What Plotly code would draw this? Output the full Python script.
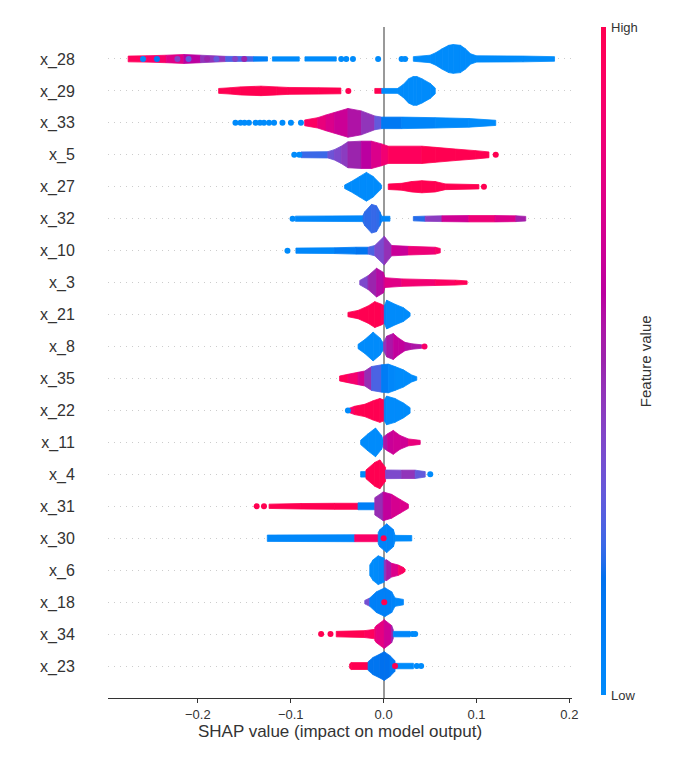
import math
import plotly.graph_objects as go

# ---------------- data ----------------
FEATURES = ["x_28", "x_29", "x_33", "x_5", "x_27", "x_32", "x_10", "x_3", "x_21", "x_8",
            "x_35", "x_22", "x_11", "x_4", "x_31", "x_30", "x_6", "x_18", "x_34", "x_23"]

# runs of the beeswarm: (SHAP value, relative density 0..1, feature value 0..1)
X_28_RUNS = [
    [(-0.275, 0.20, 0.95), (-0.255, 0.22, 0.95), (-0.234, 0.26, 0.85), (-0.215, 0.31, 0.65),
     (-0.197, 0.26, 0.55), (-0.170, 0.18, 0.35), (-0.140, 0.16, 0.15), (-0.125, 0.15, 0.0)],
    [(-0.1197, 0.15, 0.0), (-0.0908, 0.15, 0.0)],
    [(-0.0847, 0.15, 0.0), (-0.0510, 0.15, 0.0)],
    [(0.032, 0.16, 0.0), (0.050, 0.26, 0.0), (0.056, 0.43, 0.0), (0.063, 0.71, 0.0), (0.0701, 0.95, 0.0),
     (0.075, 1.0, 0.0), (0.0827, 0.95, 0.0), (0.088, 0.71, 0.0), (0.0936, 0.36, 0.0), (0.100, 0.22, 0.0),
     (0.150, 0.20, 0.0), (0.184, 0.16, 0.0)],
]
X_28_DOTS = [(-0.0456, 0.0), (-0.0402, 0.0), (-0.033, 0.0), (-0.0059, 0.0), (0.0194, 0.0), (0.0231, 0.0),
             (-0.259, 0.0), (-0.244, 0.1), (-0.222, 0.4), (-0.21, 0.3), (-0.19, 0.5), (-0.18, 0.3),
             (-0.16, 0.4), (-0.15, 0.5)]

X_29_RUNS = [
    [(-0.1776, 0.17, 1.0), (-0.165, 0.22, 1.0), (-0.154, 0.28, 1.0), (-0.132, 0.33, 1.0),
     (-0.115, 0.28, 1.0), (-0.103, 0.24, 1.0), (-0.070, 0.22, 1.0), (-0.046, 0.20, 1.0)],
    [(-0.0095, 0.17, 1.0), (-0.002, 0.17, 1.0)],
    [(-0.002, 0.17, 0.0), (0.015, 0.17, 0.0), (0.0212, 0.45, 0.0), (0.027, 0.85, 0.0), (0.032, 1.0, 0.0),
     (0.0357, 1.0, 0.0), (0.0411, 0.85, 0.0), (0.0502, 0.52, 0.0), (0.0556, 0.2, 0.0)],
]
X_29_DOTS = [(-0.038, 1.0)]

X_33_RUNS = [
    [(-0.085, 0.20, 1.0), (-0.071, 0.36, 0.85), (-0.062, 0.55, 0.75), (-0.053, 0.72, 0.7),
     (-0.0384, 1.0, 0.62), (-0.024, 0.83, 0.5), (-0.0095, 0.48, 0.4), (-0.0022, 0.40, 0.2),
     (0.0195, 0.40, 0.05), (0.0556, 0.36, 0.03), (0.0918, 0.30, 0.0), (0.1207, 0.18, 0.0)],
]
X_33_DOTS = [(-0.1595, 0.0), (-0.1541, 0.0), (-0.1497, 0.0), (-0.145, 0.0), (-0.1378, 0.0), (-0.1331, 0.0),
             (-0.1288, 0.0), (-0.1233, 0.0), (-0.1179, 0.0), (-0.1089, 0.0), (-0.0998, 0.0), (-0.089, 0.0)]

X_5_RUNS = [
    [(-0.089, 0.20, 0.15), (-0.060, 0.22, 0.3), (-0.053, 0.36, 0.35), (-0.0456, 0.60, 0.4),
     (-0.0384, 0.90, 0.45), (-0.024, 0.95, 0.55), (-0.013, 0.95, 0.65), (-0.0022, 0.76, 0.8),
     (0.005, 0.60, 0.9), (0.0412, 0.60, 1.0), (0.0556, 0.52, 1.0), (0.0773, 0.40, 1.0),
     (0.099, 0.29, 1.0), (0.1134, 0.20, 1.0)],
]
X_5_DOTS = [(-0.0962, 0.0), (-0.0908, 0.0), (0.1207, 1.0)]

X_27_RUNS = [
    [(-0.042, 0.12, 0.0), (-0.0348, 0.36, 0.0), (-0.0257, 0.72, 0.0), (-0.0185, 1.0, 0.0),
     (-0.0113, 0.72, 0.0), (-0.004, 0.24, 0.0), (-0.0022, 0.10, 0.0)],
    [(0.005, 0.19, 1.0), (0.0195, 0.24, 1.0), (0.030, 0.36, 1.0), (0.0412, 0.42, 1.0),
     (0.0556, 0.36, 1.0), (0.0664, 0.20, 1.0), (0.1026, 0.15, 1.0)],
]
X_27_DOTS = [(0.108, 1.0)]

X_32_RUNS = [
    [(-0.095, 0.18, 0.0), (-0.0221, 0.20, 0.05)],
    [(-0.0221, 0.25, 0.2), (-0.0203, 0.48, 0.2), (-0.013, 1.0, 0.22), (-0.0077, 0.90, 0.22),
     (-0.004, 0.48, 0.2), (-0.002, 0.17, 0.05), (0.0068, 0.17, 0.0)],
    [(0.032, 0.15, 0.1), (0.0448, 0.18, 0.3), (0.0628, 0.20, 0.55), (0.0918, 0.22, 0.8),
     (0.120, 0.22, 0.85), (0.1424, 0.20, 0.6), (0.153, 0.16, 0.45)],
]
X_32_DOTS = [(-0.098, 0.0)]

X_10_RUNS = [
    [(-0.0944, 0.18, 0.0), (-0.0528, 0.20, 0.05), (-0.030, 0.24, 0.15), (-0.0167, 0.24, 0.15),
     (-0.0095, 0.36, 0.35), (0.0007, 1.0, 0.38), (0.0087, 0.36, 0.55), (0.0268, 0.30, 0.75),
     (0.0556, 0.24, 0.9), (0.061, 0.15, 0.9)],
]
X_10_DOTS = [(-0.1035, 0.0)]

X_3_RUNS = [
    [(-0.0257, 0.15, 0.3), (-0.0167, 0.48, 0.45), (-0.0076, 1.0, 0.55), (-0.0004, 0.72, 0.6),
     (0.0014, 0.34, 0.7), (0.0195, 0.26, 0.8), (0.0556, 0.20, 0.9), (0.0773, 0.17, 0.95),
     (0.0899, 0.12, 1.0)],
]
X_3_DOTS = []

X_21_RUNS = [
    [(-0.0384, 0.15, 1.0), (-0.0275, 0.29, 1.0), (-0.0167, 0.60, 1.0), (-0.0095, 0.90, 1.0),
     (-0.0022, 0.72, 1.0), (0.0007, 0.60, 0.9)],
    [(0.0007, 0.60, 0.1), (0.0033, 1.0, 0.0), (0.0123, 0.72, 0.0), (0.0213, 0.48, 0.0), (0.0285, 0.12, 0.0)],
]
X_21_DOTS = []

X_8_RUNS = [
    [(-0.0275, 0.15, 0.0), (-0.0203, 0.48, 0.0), (-0.0113, 1.0, 0.0), (-0.004, 0.60, 0.0), (-0.0004, 0.24, 0.0)],
    [(0.0, 0.30, 0.4), (0.0033, 0.72, 0.5), (0.0104, 0.90, 0.6), (0.0158, 0.60, 0.65),
     (0.023, 0.29, 0.6), (0.0303, 0.19, 0.55), (0.0411, 0.12, 0.55)],
]
X_8_DOTS = [(0.044, 0.9)]

X_35_RUNS = [
    [(-0.0474, 0.17, 1.0), (-0.0384, 0.29, 0.95), (-0.0275, 0.43, 0.8), (-0.0203, 0.52, 0.6),
     (-0.013, 0.83, 0.35), (-0.0022, 0.95, 0.15), (0.005, 1.0, 0.05), (0.0122, 0.83, 0.0),
     (0.0213, 0.60, 0.0), (0.0303, 0.24, 0.0), (0.0357, 0.12, 0.0)],
]
X_35_DOTS = []

X_22_RUNS = [
    [(-0.0384, 0.12, 0.8), (-0.0312, 0.29, 1.0), (-0.0203, 0.43, 1.0), (-0.0113, 0.67, 1.0),
     (-0.004, 0.83, 1.0), (0.0007, 0.72, 1.0)],
    [(0.0007, 0.72, 0.1), (0.0032, 1.0, 0.0), (0.0122, 0.83, 0.0), (0.0213, 0.52, 0.0), (0.0285, 0.19, 0.0)],
]
X_22_DOTS = [(-0.0384, 0.0)]

X_11_RUNS = [
    [(-0.0247, 0.15, 0.0), (-0.0167, 0.60, 0.0), (-0.0087, 1.0, 0.0), (-0.0022, 0.48, 0.0), (-0.0004, 0.15, 0.0)],
    [(0.0, 0.40, 0.5), (0.0043, 0.60, 0.6), (0.0104, 0.83, 0.7), (0.0177, 0.48, 0.65),
     (0.0267, 0.24, 0.7), (0.0394, 0.14, 0.9)],
]
X_11_DOTS = []

X_4_RUNS = [
    [(-0.0247, 0.19, 0.0), (-0.019, 0.19, 0.0)],
    [(-0.019, 0.30, 1.0), (-0.0095, 0.83, 1.0), (-0.004, 1.0, 1.0), (0.0021, 0.48, 1.0)],
    [(0.0021, 0.30, 0.3), (0.0195, 0.29, 0.45), (0.034, 0.29, 0.45), (0.0448, 0.19, 0.15)],
]
X_4_DOTS = [(0.0502, 0.0)]

X_31_RUNS = [
    [(-0.1233, 0.15, 1.0), (-0.089, 0.19, 1.0), (-0.0528, 0.21, 1.0), (-0.0275, 0.21, 1.0)],
    [(-0.0275, 0.24, 0.05), (-0.0095, 0.24, 0.1)],
    [(-0.0095, 0.60, 0.4), (-0.0004, 1.0, 0.55), (0.0086, 0.83, 0.7), (0.0177, 0.48, 0.7), (0.0267, 0.14, 0.75)],
]
X_31_DOTS = [(-0.1367, 1.0), (-0.1288, 1.0)]

X_30_RUNS = [
    [(-0.1252, 0.22, 0.0), (-0.0311, 0.24, 0.05)],
    [(-0.0311, 0.24, 0.8), (-0.0058, 0.24, 1.0)],
    [(-0.0058, 0.40, 0.05), (-0.004, 0.60, 0.05), (0.0033, 1.0, 0.05), (0.0105, 0.60, 0.05),
     (0.0123, 0.20, 0.0), (0.0303, 0.19, 0.0)],
]
X_30_DOTS = [(0.0, 1.0)]

X_6_RUNS = [
    [(-0.0149, 0.36, 0.0), (-0.0113, 0.72, 0.0), (-0.0058, 1.0, 0.0), (0.0007, 0.83, 0.05)],
    [(0.0007, 0.70, 0.4), (0.0032, 0.72, 0.5), (0.0086, 0.48, 0.6), (0.0158, 0.36, 0.85),
     (0.0213, 0.19, 0.95), (0.0231, 0.07, 1.0)],
]
X_6_DOTS = []

X_18_RUNS = [
    [(-0.0203, 0.12, 0.6), (-0.0149, 0.29, 0.1), (-0.0077, 0.72, 0.05), (0.0014, 1.0, 0.1),
     (0.0087, 0.72, 0.05), (0.0123, 0.29, 0.05), (0.0213, 0.19, 0.0)],
]
X_18_DOTS = [(0.0007, 1.0)]

X_34_RUNS = [
    [(-0.051, 0.19, 1.0), (-0.0203, 0.24, 1.0), (-0.0095, 0.33, 0.9)],
    [(-0.0095, 0.45, 0.85), (-0.0077, 0.60, 0.8), (0.0007, 1.0, 0.75), (0.0086, 0.60, 0.6), (0.0104, 0.30, 0.4)],
    [(0.0104, 0.19, 0.05), (0.0285, 0.19, 0.0)],
]
X_34_DOTS = [(-0.0673, 1.0), (-0.0572, 1.0), (0.031, 0.0), (0.034, 0.0)]

X_23_RUNS = [
    [(-0.0366, 0.15, 1.0), (-0.0348, 0.24, 1.0), (-0.0167, 0.24, 1.0)],
    [(-0.0167, 0.30, 0.15), (-0.0113, 0.60, 0.15), (-0.004, 0.83, 0.15), (0.0007, 1.0, 0.2),
     (0.0069, 0.72, 0.15), (0.0123, 0.36, 0.1)],
    [(0.0123, 0.19, 0.0), (0.0321, 0.19, 0.0)],
]
X_23_DOTS = [(0.0357, 0.0), (0.0404, 0.0), (0.0123, 1.0)]

RUNS = [X_28_RUNS, X_29_RUNS, X_33_RUNS, X_5_RUNS, X_27_RUNS, X_32_RUNS, X_10_RUNS, X_3_RUNS,
        X_21_RUNS, X_8_RUNS, X_35_RUNS, X_22_RUNS, X_11_RUNS, X_4_RUNS, X_31_RUNS, X_30_RUNS,
        X_6_RUNS, X_18_RUNS, X_34_RUNS, X_23_RUNS]
DOTS = [X_28_DOTS, X_29_DOTS, X_33_DOTS, X_5_DOTS, X_27_DOTS, X_32_DOTS, X_10_DOTS, X_3_DOTS,
        X_21_DOTS, X_8_DOTS, X_35_DOTS, X_22_DOTS, X_11_DOTS, X_4_DOTS, X_31_DOTS, X_30_DOTS,
        X_6_DOTS, X_18_DOTS, X_34_DOTS, X_23_DOTS]

X_TICKS = [-0.2, -0.1, 0.0, 0.1, 0.2]
X_TICK_TEXT = ["\u22120.2", "\u22120.1", "0.0", "0.1", "0.2"]


# ---------------- SHAP red_blue colormap (LCH interpolation) ----------------
def shap_rgb(t):
    t = min(max(t, 0.0), 1.0)
    L = 54 - 28 * t if t <= 0.5 else 40 + 28 * (t - 0.5)
    C = 70 + 20 * t
    H = 4.6588 + ((0.35470565 + 2 * math.pi) - 4.6588) * t
    a, b = C * math.cos(H), C * math.sin(H)
    fy = (L + 16) / 116
    fx, fz = fy + a / 500, fy - b / 200

    def finv(v):
        return v ** 3 if v > 6 / 29 else 3 * (6 / 29) ** 2 * (v - 4 / 29)

    X, Y, Z = 0.95047 * finv(fx), finv(fy), 1.08883 * finv(fz)
    rl = 3.2406 * X - 1.5372 * Y - 0.4986 * Z
    gl = -0.9689 * X + 1.8758 * Y + 0.0415 * Z
    bl = 0.0557 * X - 0.2040 * Y + 1.0570 * Z

    def gam(c):
        c = min(max(c, 0.0), 1.0)
        return 12.92 * c if c <= 0.0031308 else 1.055 * c ** (1 / 2.4) - 0.055

    return "rgb(%d,%d,%d)" % tuple(round(255 * gam(c)) for c in (rl, gl, bl))


COLORSCALE = [[k / 40, shap_rgb(k / 40)] for k in range(41)]

HALF = 0.45  # half-height (in rows) of the densest part of a swarm
n = len(FEATURES)

# plot-area geometry (the page adds an 8px body margin)
ML, MR, MT, MB = 100, 132, 19, 67
PW = 696 - ML - MR

fig = go.Figure()
for i, runs in enumerate(RUNS):
    yc = n - 1 - i
    for run in runs:
        for (x0, d0, c0), (x1, d1, c1) in zip(run[:-1], run[1:]):
            col = shap_rgb((c0 + c1) / 2)
            h0, h1 = d0 * HALF, d1 * HALF
            fig.add_trace(go.Scatter(
                x=[x0, x1, x1, x0, x0], y=[yc - h0, yc - h1, yc + h1, yc + h0, yc - h0],
                mode="lines", fill="toself", fillcolor=col,
                line=dict(color=col, width=0.8), hoverinfo="skip", showlegend=False))

dx, dy, dc = [], [], []
for i, dots in enumerate(DOTS):
    for v, c in dots:
        dx.append(v)
        dy.append(n - 1 - i)
        dc.append(c)

fig.add_trace(go.Scatter(
    x=dx, y=dy, mode="markers", hoverinfo="skip", showlegend=False,
    marker=dict(size=6, color=dc, colorscale=COLORSCALE, cmin=0, cmax=1, line=dict(width=0),
                showscale=True,
                colorbar=dict(thickness=5, thicknessmode="pixels", len=668, lenmode="pixels",
                              x=(593 - ML) / PW, xanchor="left", xpad=0,
                              y=0.502, yanchor="middle", ypad=0, outlinewidth=0,
                              tickvals=[0, 1], ticktext=["Low", "High"],
                              ticks="outside", ticklen=3, tickcolor="rgba(0,0,0,0)",
                              tickfont=dict(size=13, color="#333333")))))

fig.add_annotation(text="Feature value", xref="paper", yref="paper",
                   x=(637 - ML) / PW, y=0.502, textangle=-90, showarrow=False,
                   xanchor="center", yanchor="middle",
                   font=dict(size=15, color="#333333"))

fig.update_layout(
    width=696, height=757,
    margin=dict(l=ML, r=MR, t=MT, b=MB),
    plot_bgcolor="white", paper_bgcolor="white",
    font=dict(family="Liberation Sans, Arial, sans-serif", color="#333333"),
    xaxis=dict(range=[-0.2967, 0.2028], tickvals=X_TICKS, ticktext=X_TICK_TEXT,
               showline=True, linecolor="#333333", linewidth=1, mirror=False,
               ticks="outside", ticklen=4, tickcolor="#333333",
               tickfont=dict(size=13, color="#333333"), showgrid=False,
               zeroline=True, zerolinecolor="#999999", zerolinewidth=1.5,
               title=dict(text="SHAP value (impact on model output)", standoff=4,
                          font=dict(size=17, color="#333333"))),
    yaxis=dict(range=[-1, n], tickvals=list(range(n)), ticktext=FEATURES[::-1],
               showline=False, zeroline=False, showgrid=True, gridcolor="#cccccc",
               gridwidth=0.5, griddash="1px,5px", ticks="outside", ticklen=29,
               tickcolor="rgba(0,0,0,0)", tickfont=dict(size=16, color="#333333")),
)

fig.write_html("out.html")
